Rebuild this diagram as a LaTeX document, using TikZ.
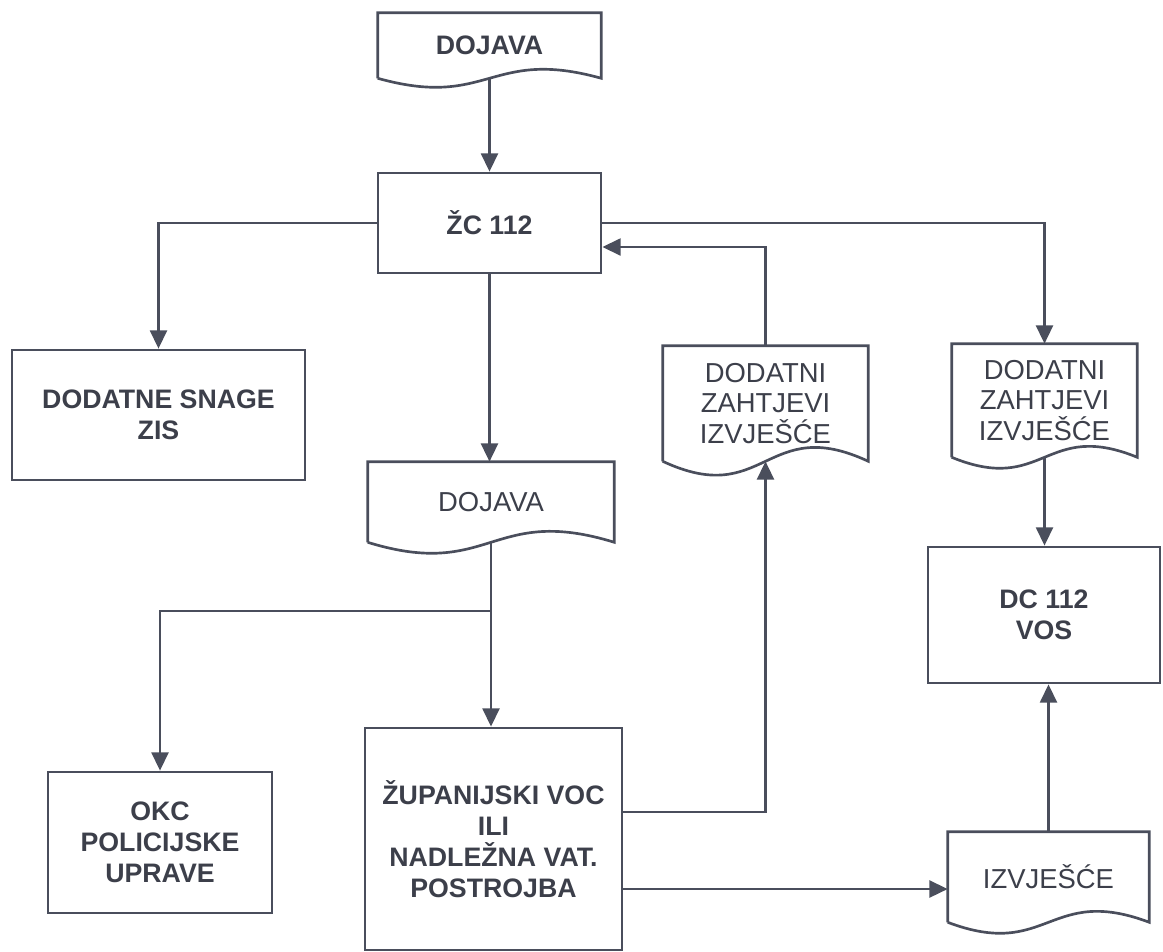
\documentclass[tikz,border=0pt]{standalone}
\usepackage{xcolor}
\usepackage{fontspec}
\setmainfont{Liberation Sans}
\usepackage{tikz}
\usetikzlibrary{arrows.meta}

\definecolor{linegray}{HTML}{4A4E5C}
\definecolor{textgray}{HTML}{3C3F4A}

\tikzset{
  box/.style={draw=linegray, line width=1.9pt, inner sep=0pt, align=center, text=textgray,
    font=\fontsize{19}{22}\selectfont\bfseries},
  doc/.style={inner sep=0pt, align=center, text=textgray, font=\fontsize{19.5}{22}\selectfont},
  link/.style={draw=linegray, line width=1.9pt},
  flow/.style={link, -{Triangle[length=13pt,width=12pt]}},
}

% document symbol: straight top and sides, wavy bottom
\newcommand{\docframe}[2]{%
  \draw[link, line join=miter] (#1.south west) -- (#1.north west) -- (#1.north east) -- (#1.south east)
    .. controls ([yshift=#2]#1.south) and ([yshift=-#2]#1.south) .. (#1.south west);
}

\begin{document}
\begin{tikzpicture}[x=0.025cm, y=-0.025cm]
  \useasboundingbox (0,0) rectangle (1163,952);

  % top of the chart
  \node[doc, font=\fontsize{19}{22}\selectfont\bfseries, minimum width=5.575cm, minimum height=1.625cm] (dj1) at (489.5,45.5) {DOJAVA};
  \node[box, minimum width=5.575cm, minimum height=2.5cm] (zc) at (489.5,223) {ŽC 112};
  \node[box, minimum width=7.325cm, minimum height=3.25cm] (dsn) at (158.5,415) {DODATNE SNAGE\\ZIS};

  % middle
  \node[doc, minimum width=6.15cm, minimum height=2cm] (dj2) at (491,502) {DOJAVA};
  \node[doc, minimum width=5.125cm, minimum height=2.875cm] (dz1) at (765.5,403.5) {DODATNI\\ZAHTJEVI\\IZVJEŠĆE};
  \node[doc, minimum width=4.625cm, minimum height=2.825cm] (dz2) at (1044.5,400.5) {DODATNI\\ZAHTJEVI\\IZVJEŠĆE};
  \node[box, minimum width=5.8cm, minimum height=3.4cm] (dc) at (1044,615) {DC 112\\VOS};

  % bottom
  \node[box, minimum width=5.6cm, minimum height=3.525cm] (okc) at (160,842.5) {OKC\\POLICIJSKE\\UPRAVE};
  \node[box, minimum width=6.425cm, minimum height=5.55cm] (zup) at (493.5,839) {ŽUPANIJSKI VOC\\ILI\\NADLEŽNA VAT.\\POSTROJBA};
  \node[doc, minimum width=5.025cm, minimum height=2.25cm] (izv) at (1048.5,877) {IZVJEŠĆE};

  \docframe{dj1}{0.78cm}
  \docframe{dj2}{0.95cm}
  \docframe{dz1}{1.2cm}
  \docframe{dz2}{0.95cm}
  \docframe{izv}{0.95cm}

  % connectors
  \draw[flow] (dj1.south) -- (zc.north);
  \draw[flow] (zc.west) -| (dsn.north);
  \draw[flow] (zc.south) -- (zc.south |- dj2.north);
  \draw[flow] (zc.east) -| (dz2.north);
  \draw[flow] (dz1.north) |- ([yshift=-0.6cm]zc.east);

  \coordinate (split) at (491,611);
  \draw[link] (dj2.south) -- (split);
  \draw[flow] (split) -| (okc.north);
  \draw[flow] (split) -- (split |- zup.north);

  \draw[flow] ([yshift=0.675cm]zup.east) -| (dz1.south);
  \draw[flow] ([yshift=-1.25cm]zup.east) -- ([yshift=-1.25cm]zup.east -| izv.west);
  \draw[flow] (dz2.south) -- (dz2.south |- dc.north);
  \draw[flow] (izv.north) -- (izv.north |- dc.south);
\end{tikzpicture}
\end{document}
